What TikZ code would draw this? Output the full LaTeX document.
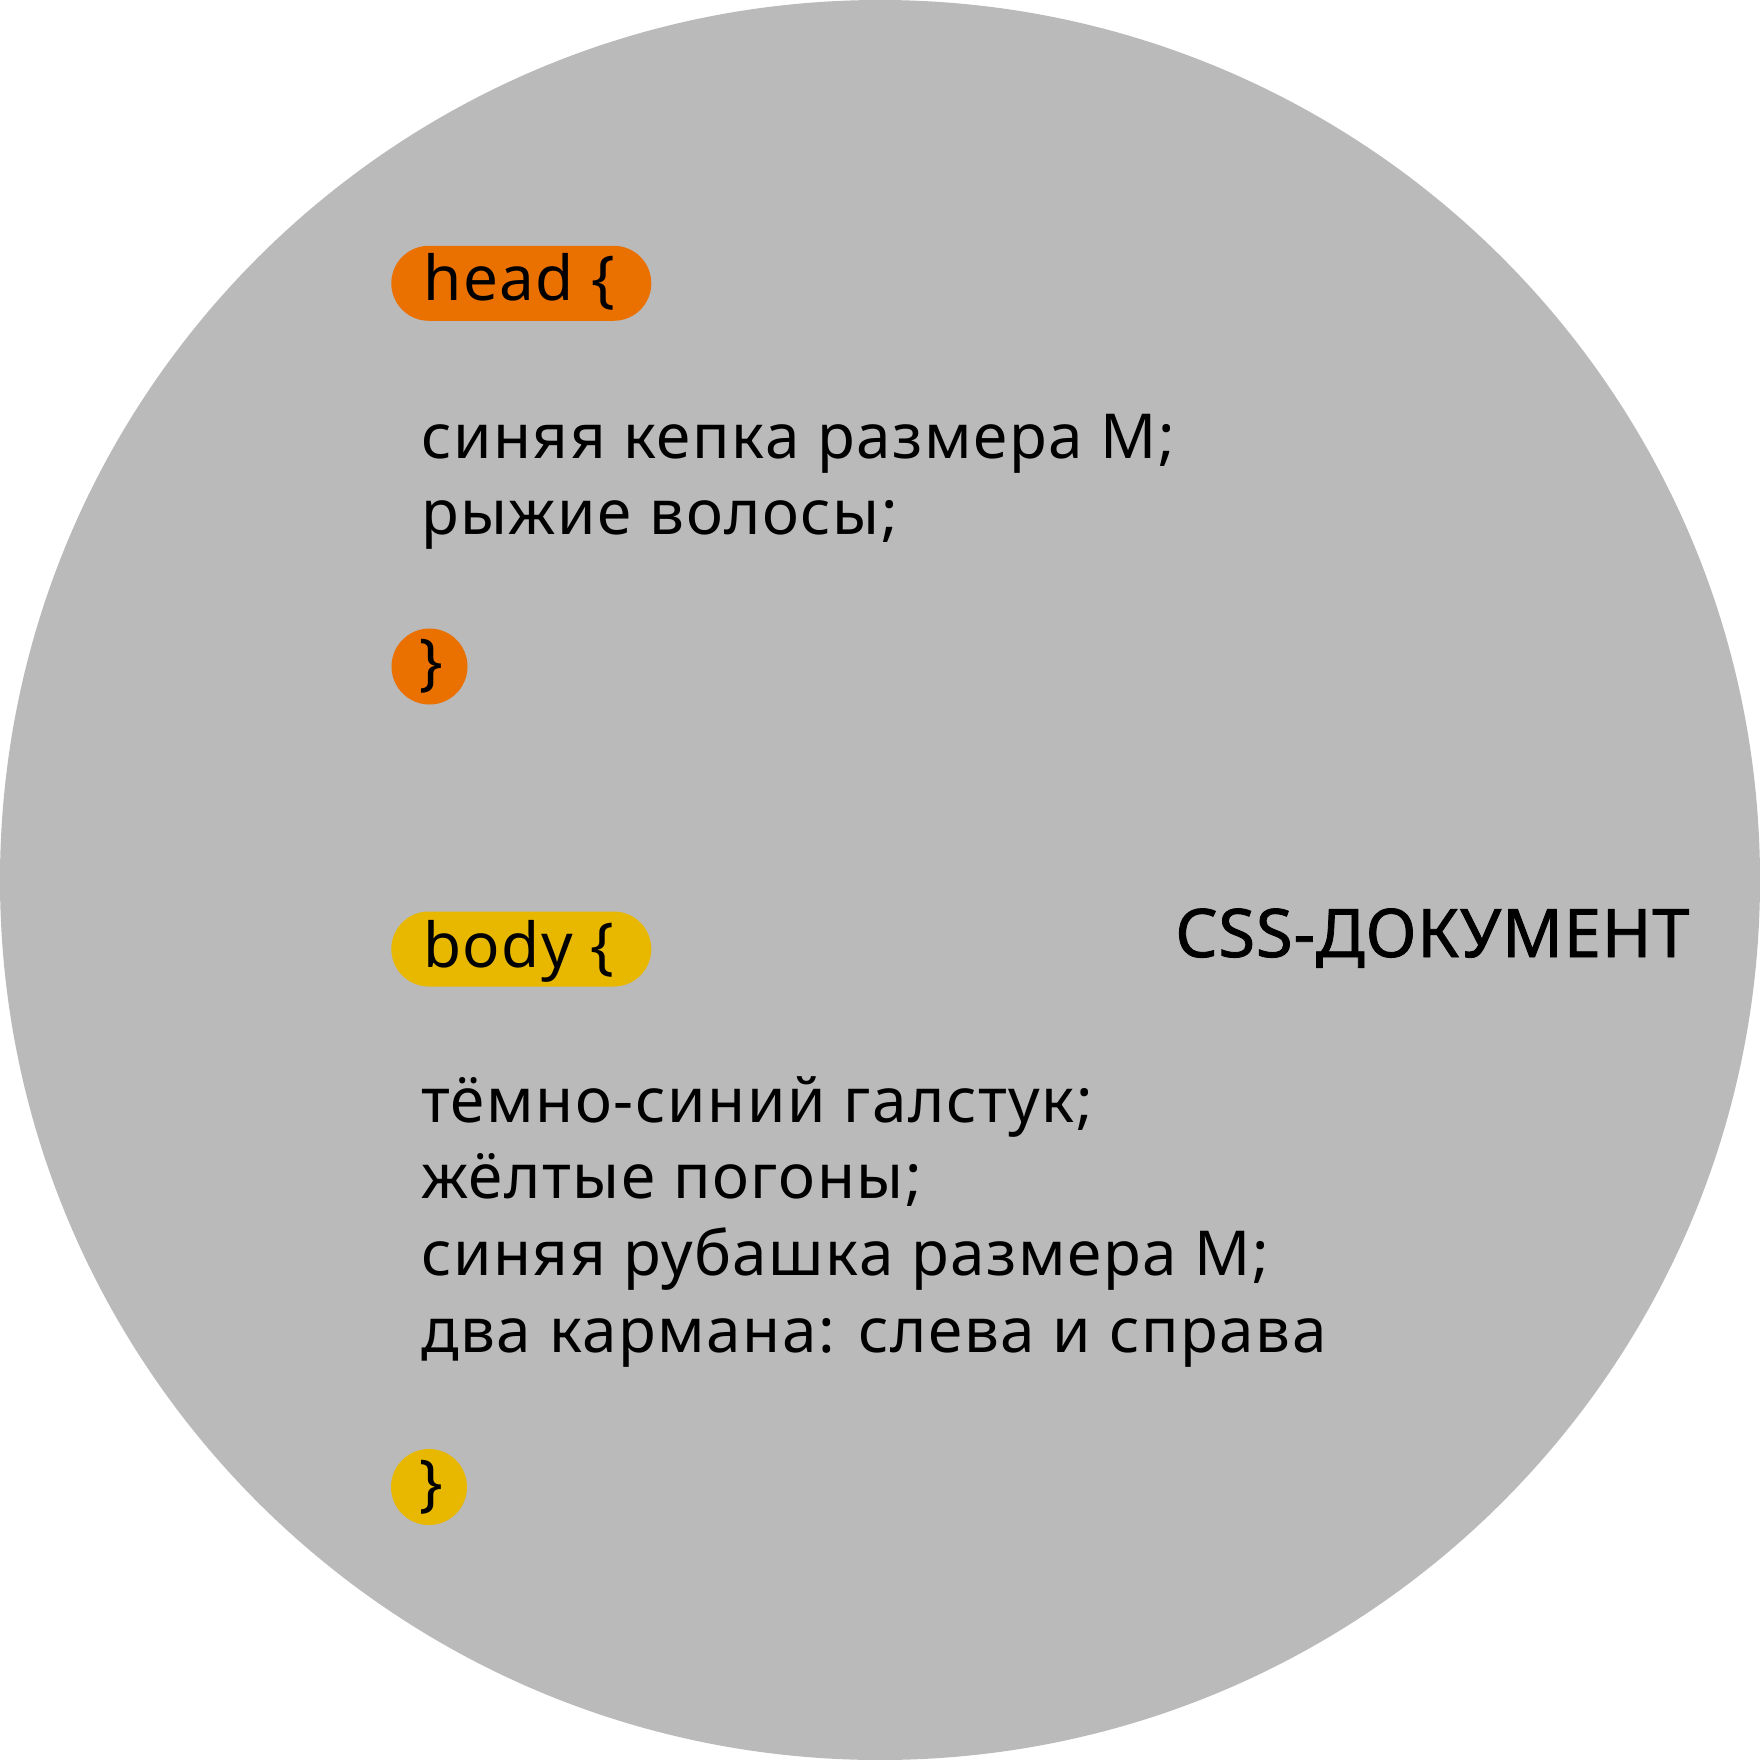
\documentclass[tikz,border=0pt]{standalone}
\usepackage{fontspec}
\setmainfont{Noto Sans}
\newfontfamily\codefont[LetterSpace=2.5]{Noto Sans}
\newfontfamily\titlefont[LetterSpace=1.2,FakeBold=1.2]{Noto Sans}
\definecolor{bg}{RGB}{186,186,186}
\definecolor{orangec}{RGB}{234,112,0}
\definecolor{yellowc}{RGB}{232,184,0}
\begin{document}
\begin{tikzpicture}[x=1pt,y=-1pt,
  pill/.style={rounded corners=37.5pt, minimum width=260pt, minimum height=75pt, inner sep=0pt},
  dot/.style={circle, minimum size=76pt, inner sep=0pt},
  code/.style={inner sep=0pt, font=\codefont\fontsize{62}{76}\selectfont, text=black},
  title/.style={inner sep=0pt, font=\titlefont\fontsize{67}{80}\selectfont, text=black}]
\useasboundingbox (0,0) rectangle (1760,1760);
\fill[bg] (880,880) circle[radius=880];
% head block
\node[pill, fill=orangec] (headpill) at (521.3,283.3) {};
\node[code, anchor=base west] (headtxt) at (423,301) {head \{};
\node[code, anchor=base west] (head1) at (421,458) {синяя кепка размера М;};
\node[code, anchor=base west] (head2) at (421,534) {рыжие волосы;};
\node[dot, fill=orangec] (headclose) at (429.5,666.5) {};
\node[code] (headbrace) at (431,666.5) {\}};
% body block
\node[pill, fill=yellowc] (bodypill) at (521.3,949) {};
\node[code, anchor=base west] (bodytxt) at (423,967) {body \{};
\node[code, anchor=base west] (body1) at (421,1122) {тёмно-синий галстук;};
\node[code, anchor=base west] (body2) at (421,1198) {жёлтые погоны;};
\node[code, anchor=base west] (body3) at (421,1275) {синяя рубашка размера М;};
\node[code, anchor=base west] (body4) at (421,1352) {два кармана: слева и справа};
\node[dot, fill=yellowc] (bodyclose) at (429,1487) {};
\node[code] (bodybrace) at (431,1487) {\}};
% title
\node[title, anchor=base west] (title) at (1175,957) {CSS-ДОКУМЕНТ};
\end{tikzpicture}
\end{document}
